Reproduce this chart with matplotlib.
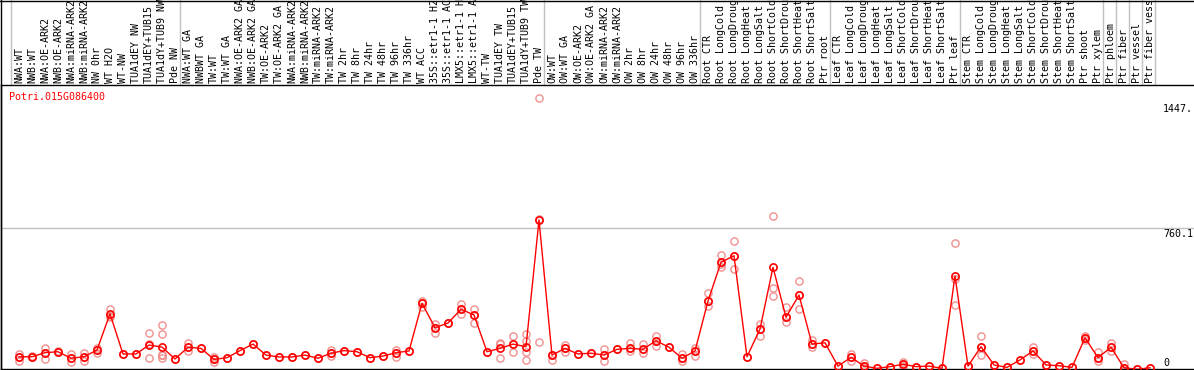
import matplotlib
matplotlib.use("Agg")
import matplotlib.pyplot as plt
from matplotlib.lines import Line2D
from matplotlib.transforms import blended_transform_factory

labels = [
    "NWA:WT", "NWB:WT", "NWA:OE-ARK2", "NWB:OE-ARK2", "NWA:miRNA-ARK2", "NWB:miRNA-ARK2",
    "NW 0hr", "WT H2O", "WT-NW", "TUA1dEY NW", "TUA1dEY+TUB15", "TUA1dY+TUB9 NW", "Pde NW",
    "NWA:WT GA", "NWBWT GA", "TW:WT", "TW:WT GA", "NWA:OE-ARK2 GA", "NWB:OE-ARK2 GA",
    "TW:OE-ARK2", "TW:OE-ARK2 GA", "NWA:miRNA-ARK2", "NWB:miRNA-ARK2", "TW:miRNA-ARK2",
    "TW:miRNA-ARK2", "TW 2hr", "TW 8hr", "TW 24hr", "TW 48hr", "TW 96hr", "TW 336hr",
    "WT ACC", "35S::etr1-1 H2", "35S::etr1-1 AC", "LMX5::etr1-1 H", "LMX5::etr1-1 A",
    "WT-TW", "TUA1dEY TW", "TUA1dEY+TUB15", "TUA1dY+TUB9 TW", "Pde TW",
    "OW:WT", "OW:WT GA", "OW:OE-ARK2", "OW:OE-ARK2 GA", "OW:miRNA-ARK2", "OW:miRNA-ARK2",
    "OW 2hr", "OW 8hr", "OW 24hr", "OW 48hr", "OW 96hr", "OW 336hr",
    "Root CTR", "Root LongCold", "Root LongDroug", "Root LongHeat", "Root LongSalt",
    "Root ShortCold", "Root ShortDrou", "Root ShortHeat", "Root ShortSalt", "Ptr root",
    "Leaf CTR", "Leaf LongCold", "Leaf LongDroug", "Leaf LongHeat", "Leaf LongSalt",
    "Leaf ShortCold", "Leaf ShortDrou", "Leaf ShortHeat", "Leaf ShortSalt", "Ptr leaf",
    "Stem CTR", "Stem LongCold", "Stem LongDroug", "Stem LongHeat", "Stem LongSalt",
    "Stem ShortCold", "Stem ShortDrou", "Stem ShortHeat", "Stem ShortSalt", "Ptr shoot",
    "Ptr xylem", "Ptr phloem", "Ptr fiber", "Ptr vessel", "Ptr fiber vess",
]

means = [
    71, 71, 93, 98, 63, 71, 107, 302, 86, 86, 134, 123, 59,
    122, 116, 57, 66, 104, 139, 80, 70, 70, 80, 63, 90, 104, 98, 66, 75, 93, 102,
    358, 227, 252, 326, 295, 98, 116, 139, 125, 805,
    80, 116, 86, 90, 80, 111, 116, 111, 157, 122, 63, 102,
    370, 578, 613, 71, 220, 551, 283, 402, 139, 146,
    21, 68, 21, 9, 18, 31, 18, 21, 9, 504,
    21, 125, 27, 14, 54, 102, 27, 23, 14, 173, 66,
    122, 12, 4, 12,
]

replicates = [
    [84, 71, 48], [68, 74], [116, 93, 59], [95, 101], [84, 63, 41], [93, 71, 48],
    [120, 107, 93], [327, 292, 286], [86], [86], [197, 138, 66],
    [241, 191, 80, 80, 80, 66], [59],
    [143, 122, 104], [116], [70, 57, 45], [66], [104], [139], [80], [70], [70], [80],
    [63], [107, 90, 77], [104], [98], [66], [75], [107, 93, 71], [102],
    [370, 358, 340], [245, 227, 200], [252], [352, 326, 299], [326, 295, 250], [98],
    [138, 147, 63], [184, 139, 95], [193, 155, 98, 54], [1457, 809, 149],
    [54, 80, 80], [134, 116, 98], [86], [90], [111, 80, 48], [111], [143, 116, 102],
    [139, 111, 90], [184, 157, 130], [122], [84, 63, 48], [120, 102, 77],
    [411, 370, 345], [617, 566, 554], [692, 613, 542], [71], [247, 220, 184],
    [826, 441, 397], [336, 283, 256], [477, 402, 326], [161, 139, 122], [146],
    [21], [50, 68, 86], [36, 21, 9], [9], [18], [45, 31, 20], [18], [21], [9],
    [680, 487, 349],
    [21], [182, 125, 80], [27], [14], [54], [122, 102, 84], [27], [23], [14],
    [184, 173, 161], [98, 66, 48],
    [143, 122, 101], [31, 12, 0], [4], [12],
]

group_ends = [-1, 12, 40, 52, 62, 72, 83, 84, 85, 86, 87]
gene_name = "Potri.015G086400"
ytick_texts = ["1447.", "760.1", "0"]

W, H = 1194, 370
fig = plt.figure(figsize=(W / 100, H / 100), dpi=100)
fig.patch.set_facecolor("white")

# pixel geometry
x0_px, dx_px = 19, 13
zero_px = 370.0
scale = (zero_px - 228.3) / 760.1
ax_top_px, ax_bot_px, ax_left_px = 85, 369, 1

ax = fig.add_axes([ax_left_px / W, (H - ax_bot_px) / H,
                   (W - ax_left_px) / W, (ax_bot_px - ax_top_px) / H])
ax.set_xlim((ax_left_px - x0_px) / dx_px, (W - x0_px) / dx_px)
ax.set_ylim((zero_px - ax_bot_px) / scale, (zero_px - ax_top_px) / scale)
ax.set_xticks([])
ax.set_yticks([])
for s in ["left", "bottom", "top"]:
    ax.spines[s].set_color("black")
    ax.spines[s].set_linewidth(1.0)
ax.spines["right"].set_visible(False)

ax.axhline(760.1, color="#C0C0C0", lw=1.0, zorder=1)

xs = list(range(len(means)))
rx, ry = [], []
for i, reps in enumerate(replicates):
    for v in reps:
        rx.append(i)
        ry.append(v)
ax.plot(rx, ry, linestyle="none", marker="o", ms=5.2, mfc="none",
        mec="#F09090", mew=1.0, zorder=2)
ax.plot(xs, means, color="#FF0000", lw=1.0, marker="o", ms=5.2, mfc="none",
        mec="#FF0000", mew=1.2, zorder=3)

# group separators across full figure height
bt = blended_transform_factory(ax.transData, fig.transFigure)
for k in group_ends:
    xv = k + 5.0 / dx_px
    fig.add_artist(Line2D([xv, xv], [(H - ax_bot_px) / H, 1.0], transform=bt,
                          color="#C0C0C0", lw=1.0, zorder=0))

# borders
fig.add_artist(Line2D([0, 1], [1 - 0.5 / H, 1 - 0.5 / H], transform=fig.transFigure,
                      color="black", lw=1.0))
fig.add_artist(Line2D([1.2 / W, 1.2 / W], [(H - ax_bot_px) / H, 1], transform=fig.transFigure,
                      color="black", lw=1.0))

mono = "DejaVu Sans Mono"
# category labels
for i, lab in enumerate(labels):
    fig.text(i, (H - 83) / H, lab, transform=bt, rotation=90, ha="center", va="bottom",
             fontsize=7.2, family=mono, color="black")

fig.text(9 / W, 1 - 92 / H, gene_name, ha="left", va="top", fontsize=7.2,
         family=mono, color="#FF0000")

label_tops = [104, 229, 358]
for t, top in zip(ytick_texts, label_tops):
    fig.text(1163 / W, 1 - top / H, t, ha="left", va="top", fontsize=7.2,
             family=mono, color="black")

fig.savefig("out.png", dpi=100)
